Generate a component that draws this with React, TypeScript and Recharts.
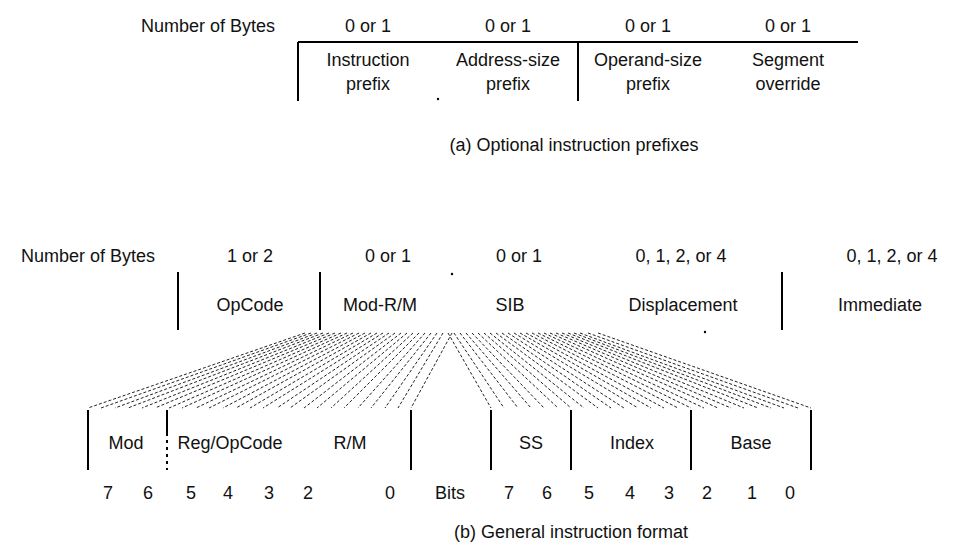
import {
  ScatterChart,
  Scatter,
  XAxis,
  YAxis,
  ReferenceLine,
  ReferenceDot,
} from "recharts";

// (a) optional prefixes
const prefixBytes = ["0 or 1", "0 or 1", "0 or 1", "0 or 1"];
const prefixNameTop = ["Instruction", "Address-size", "Operand-size", "Segment"];
const prefixNameBottom = ["prefix", "prefix", "prefix", "override"];
const prefixX = [368, 508, 648, 788];

// (b) general format
const fieldBytes = ["1 or 2", "0 or 1", "0 or 1", "0, 1, 2, or 4", "0, 1, 2, or 4"];
const fieldBytesX = [250, 388, 519, 681, 892];
const fieldNames = ["OpCode", "Mod-R/M", "SIB", "Displacement", "Immediate"];
const fieldNamesX = [250, 380, 510, 683, 880];

const subFields = ["Mod", "Reg/OpCode", "R/M", "SS", "Index", "Base"];
const subFieldsX = [126, 230, 350, 531, 632, 751];

const bitLabels = ["7", "6", "5", "4", "3", "2", "0", "Bits", "7", "6", "5", "4", "3", "2", "1", "0"];
const bitX = [108, 148, 191, 228, 269, 308, 390, 450, 509, 547, 589, 630, 669, 707, 752, 790];

// separators
const prefixDividers = [298, 578];
const fieldDividers = [178, 320, 782];
const subDividers = [88, 411, 491, 571, 691, 811];
const subDashed = [167];

// fan lines (top x -> bottom x)
const fanModTop = [
  305, 311, 317, 323, 329, 335, 341, 347, 353, 359, 365, 371, 377, 383, 389, 395,
  401, 407, 413, 419, 425, 431, 437, 443, 452,
];
const fanModBottom = [
  88, 101, 115, 128, 142, 155, 169, 182, 196, 209, 223, 236, 250, 263, 277, 290,
  304, 317, 331, 344, 358, 371, 385, 398, 411,
];
const fanSibTop = [
  448, 454, 460, 466, 472, 478, 484, 490, 496, 502, 508, 514, 520, 526, 532, 538,
  544, 550, 556, 562, 568, 574, 580, 588, 598,
];
const fanSibBottom = [
  491, 504, 518, 531, 544, 558, 571, 584, 598, 611, 624, 638, 651, 664, 678, 691,
  704, 718, 731, 744, 758, 771, 784, 798, 811,
];

const strays = [
  { x: 438, y: 99 },
  { x: 452, y: 274 },
  { x: 705, y: 332 },
];

const Y = {
  prefixBytes: 26,
  prefixTop: 60,
  prefixBottom: 84,
  captionA: 145,
  fieldBytes: 256,
  fieldNames: 305,
  fanTop: 333,
  fanBottom: 408,
  subFields: 443,
  bits: 493,
  captionB: 532,
};

const FONT = "'Liberation Sans', Arial, Helvetica, sans-serif";

const pts = (labels: string[], xs: number[], y: number) =>
  labels.map((label, i) => ({ x: xs[i], y, label }));

const texts = [
  { x: 208, y: Y.prefixBytes, label: "Number of Bytes" },
  ...pts(prefixBytes, prefixX, Y.prefixBytes),
  ...pts(prefixNameTop, prefixX, Y.prefixTop),
  ...pts(prefixNameBottom, prefixX, Y.prefixBottom),
  { x: 574, y: Y.captionA, label: "(a) Optional instruction prefixes" },
  { x: 88, y: Y.fieldBytes, label: "Number of Bytes" },
  ...pts(fieldBytes, fieldBytesX, Y.fieldBytes),
  ...pts(fieldNames, fieldNamesX, Y.fieldNames),
  ...pts(subFields, subFieldsX, Y.subFields),
  ...pts(bitLabels, bitX, Y.bits),
  { x: 571, y: Y.captionB, label: "(b) General instruction format" },
];

const TextShape = (props: any) => {
  const { cx, cy, payload } = props;
  return (
    <text
      x={cx}
      y={cy}
      textAnchor="middle"
      dominantBaseline="central"
      fontSize={18}
      fontFamily={FONT}
      fill="#111"
    >
      {payload.label}
    </text>
  );
};

export default function App() {
  return (
    <div style={{ position: "absolute", left: 0, top: 0, background: "#fff" }}>
      <ScatterChart width={978} height={542} margin={{ top: 0, right: 0, bottom: 0, left: 0 }}>
        <XAxis type="number" dataKey="x" domain={[0, 978]} hide />
        <YAxis type="number" dataKey="y" domain={[0, 542]} reversed hide />

        {/* fans */}
        {fanModTop.map((t, i) => (
          <ReferenceLine
            key={`fm${i}`}
            segment={[{ x: t, y: Y.fanTop }, { x: fanModBottom[i], y: Y.fanBottom }]}
            stroke="#222"
            strokeWidth={1}
            strokeDasharray="3 2"
          />
        ))}
        {fanSibTop.map((t, i) => (
          <ReferenceLine
            key={`fs${i}`}
            segment={[{ x: t, y: Y.fanTop }, { x: fanSibBottom[i], y: Y.fanBottom }]}
            stroke="#222"
            strokeWidth={1}
            strokeDasharray="3 2"
          />
        ))}

        {/* (a) table */}
        <ReferenceLine segment={[{ x: 298, y: 42 }, { x: 858, y: 42 }]} stroke="#000" strokeWidth={2} />
        {prefixDividers.map((x) => (
          <ReferenceLine key={`pd${x}`} segment={[{ x, y: 42 }, { x, y: 101 }]} stroke="#000" strokeWidth={2} />
        ))}

        {/* (b) fields */}
        {fieldDividers.map((x) => (
          <ReferenceLine key={`fd${x}`} segment={[{ x, y: 272 }, { x, y: 330 }]} stroke="#000" strokeWidth={2} />
        ))}
        {subDividers.map((x) => (
          <ReferenceLine key={`sd${x}`} segment={[{ x, y: 410 }, { x, y: 470 }]} stroke="#000" strokeWidth={2} />
        ))}
        {subDashed.map((x) => (
          <ReferenceLine
            key={`sdd${x}`}
            segment={[{ x, y: 410 }, { x, y: 470 }]}
            stroke="#000"
            strokeWidth={2}
            strokeDasharray="26 4 3 4 3 4 3 4 3 4"
          />
        ))}

        {strays.map((p, i) => (
          <ReferenceDot key={`st${i}`} x={p.x} y={p.y} r={1.2} fill="#000" stroke="none" />
        ))}

        <Scatter data={texts} shape={TextShape} isAnimationActive={false} />
      </ScatterChart>
    </div>
  );
}
